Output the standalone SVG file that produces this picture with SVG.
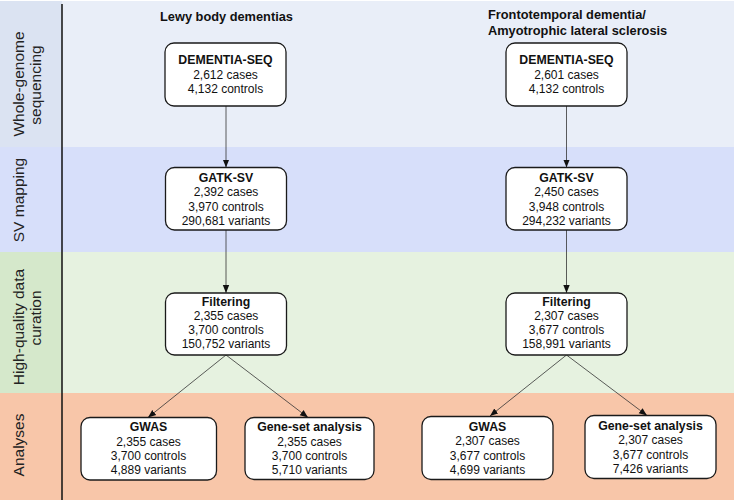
<svg xmlns="http://www.w3.org/2000/svg" width="736" height="504" viewBox="0 0 736 504">
<defs>
<style>
.box{fill:#fff;stroke:#1a1a1a;stroke-width:1.3}
.t{font-family:"Liberation Sans",Arial,sans-serif;font-size:12px;fill:#111;text-anchor:middle}
.h{font-weight:bold;font-size:12.3px}
.title{font-family:"Liberation Sans",Arial,sans-serif;font-size:12.8px;font-weight:bold;fill:#111}
.lab{font-family:"Liberation Sans",Arial,sans-serif;font-size:15.5px;fill:#222;text-anchor:middle}
.conn{stroke:#333;stroke-width:0.8;fill:none;marker-end:url(#ah)}
</style>
<marker id="ah" markerUnits="userSpaceOnUse" markerWidth="8" markerHeight="8" viewBox="0 0 8 8" refX="8" refY="4" orient="auto">
<path d="M0,0.8 L8,4 L0,7.2 Z" fill="#111"/>
</marker>
</defs>
<rect width="736" height="504" fill="#ffffff"/>
<g id="bands">
<rect x="0" y="1" width="734" height="146" fill="#e9eef8"/>
<rect x="0" y="1" width="62" height="146" fill="#dbe3f2"/>
<rect x="0" y="147" width="734" height="105" fill="#d7dffa"/>
<rect x="0" y="252" width="734" height="141" fill="#e6f2e0"/>
<rect x="0" y="252" width="62" height="141" fill="#d5e8cb"/>
<rect x="0" y="393" width="734" height="107" fill="#f8c6a9"/>
<line x1="62" y1="4" x2="62" y2="500" stroke="#111" stroke-width="1.5"/>
</g>
<g id="lane-labels">
<text class="lab" transform="translate(24,84) rotate(-90)">Whole-genome</text>
<text class="lab" transform="translate(41,85) rotate(-90)">sequencing</text>
<text class="lab" transform="translate(24,200) rotate(-90)">SV mapping</text>
<text class="lab" transform="translate(24,327) rotate(-90)">High-quality data</text>
<text class="lab" transform="translate(41,318) rotate(-90)">curation</text>
<text class="lab" transform="translate(24,445) rotate(-90)">Analyses</text>
</g>
<g id="titles">
<text class="title" x="226.5" y="20.5" text-anchor="middle">Lewy body dementias</text>
<text class="title" x="488" y="19">Frontotemporal dementia/</text>
<text class="title" x="488" y="34.5">Amyotrophic lateral sclerosis</text>
</g>
<g id="connectors">
<line class="conn" x1="226" y1="106" x2="226" y2="167.5"/>
<line class="conn" x1="226" y1="230" x2="226" y2="293"/>
<line class="conn" x1="226" y1="355" x2="148" y2="417.5"/>
<line class="conn" x1="226" y1="355" x2="308" y2="417.5"/>
<line class="conn" x1="566.5" y1="106" x2="566.5" y2="167.5"/>
<line class="conn" x1="566.5" y1="230" x2="566.5" y2="293"/>
<line class="conn" x1="566.5" y1="355" x2="490" y2="416"/>
<line class="conn" x1="566.5" y1="355" x2="647" y2="415.5"/>
</g>
<g id="lbd-seq">
<rect class="box" x="165" y="43" width="121" height="63" rx="9"/>
<text class="t h" x="225.5" y="64">DEMENTIA-SEQ</text>
<text class="t" x="225.5" y="78.5">2,612 cases</text>
<text class="t" x="225.5" y="93">4,132 controls</text>
</g>
<g id="lbd-gatk">
<rect class="box" x="165.5" y="167.5" width="121" height="62.5" rx="9"/>
<text class="t h" x="226" y="181.5">GATK-SV</text>
<text class="t" x="226" y="196">2,392 cases</text>
<text class="t" x="226" y="210.5">3,970 controls</text>
<text class="t" x="226" y="224.5">290,681 variants</text>
</g>
<g id="lbd-filter">
<rect class="box" x="165.5" y="293" width="121" height="62" rx="9"/>
<text class="t h" x="226" y="305.5">Filtering</text>
<text class="t" x="226" y="319.5">2,355 cases</text>
<text class="t" x="226" y="333.5">3,700 controls</text>
<text class="t" x="226" y="348">150,752 variants</text>
</g>
<g id="lbd-gwas">
<rect class="box" x="81" y="417.5" width="135.5" height="62.5" rx="9"/>
<text class="t h" x="148.5" y="431">GWAS</text>
<text class="t" x="148.5" y="445.5">2,355 cases</text>
<text class="t" x="148.5" y="460">3,700 controls</text>
<text class="t" x="148.5" y="474">4,889 variants</text>
</g>
<g id="lbd-geneset">
<rect class="box" x="245" y="417.5" width="129" height="62" rx="9"/>
<text class="t h" x="309.5" y="431">Gene-set analysis</text>
<text class="t" x="309.5" y="445.5">2,355 cases</text>
<text class="t" x="309.5" y="460">3,700 controls</text>
<text class="t" x="309.5" y="474">5,710 variants</text>
</g>
<g id="ftd-seq">
<rect class="box" x="506" y="43" width="121" height="63" rx="9"/>
<text class="t h" x="566.5" y="64">DEMENTIA-SEQ</text>
<text class="t" x="566.5" y="78.5">2,601 cases</text>
<text class="t" x="566.5" y="93">4,132 controls</text>
</g>
<g id="ftd-gatk">
<rect class="box" x="506" y="167.5" width="121" height="62.5" rx="9"/>
<text class="t h" x="566.5" y="181.5">GATK-SV</text>
<text class="t" x="566.5" y="196">2,450 cases</text>
<text class="t" x="566.5" y="210.5">3,948 controls</text>
<text class="t" x="566.5" y="224.5">294,232 variants</text>
</g>
<g id="ftd-filter">
<rect class="box" x="506" y="293" width="121" height="62" rx="9"/>
<text class="t h" x="566.5" y="305.5">Filtering</text>
<text class="t" x="566.5" y="319.5">2,307 cases</text>
<text class="t" x="566.5" y="333.5">3,677 controls</text>
<text class="t" x="566.5" y="348">158,991 variants</text>
</g>
<g id="ftd-gwas">
<rect class="box" x="422" y="416.5" width="131" height="63" rx="9"/>
<text class="t h" x="487.5" y="430.5">GWAS</text>
<text class="t" x="487.5" y="445">2,307 cases</text>
<text class="t" x="487.5" y="459.5">3,677 controls</text>
<text class="t" x="487.5" y="474">4,699 variants</text>
</g>
<g id="ftd-geneset">
<rect class="box" x="585" y="415.5" width="131" height="63" rx="9"/>
<text class="t h" x="650.5" y="429.5">Gene-set analysis</text>
<text class="t" x="650.5" y="444">2,307 cases</text>
<text class="t" x="650.5" y="458.5">3,677 controls</text>
<text class="t" x="650.5" y="472.5">7,426 variants</text>
</g>
</svg>
